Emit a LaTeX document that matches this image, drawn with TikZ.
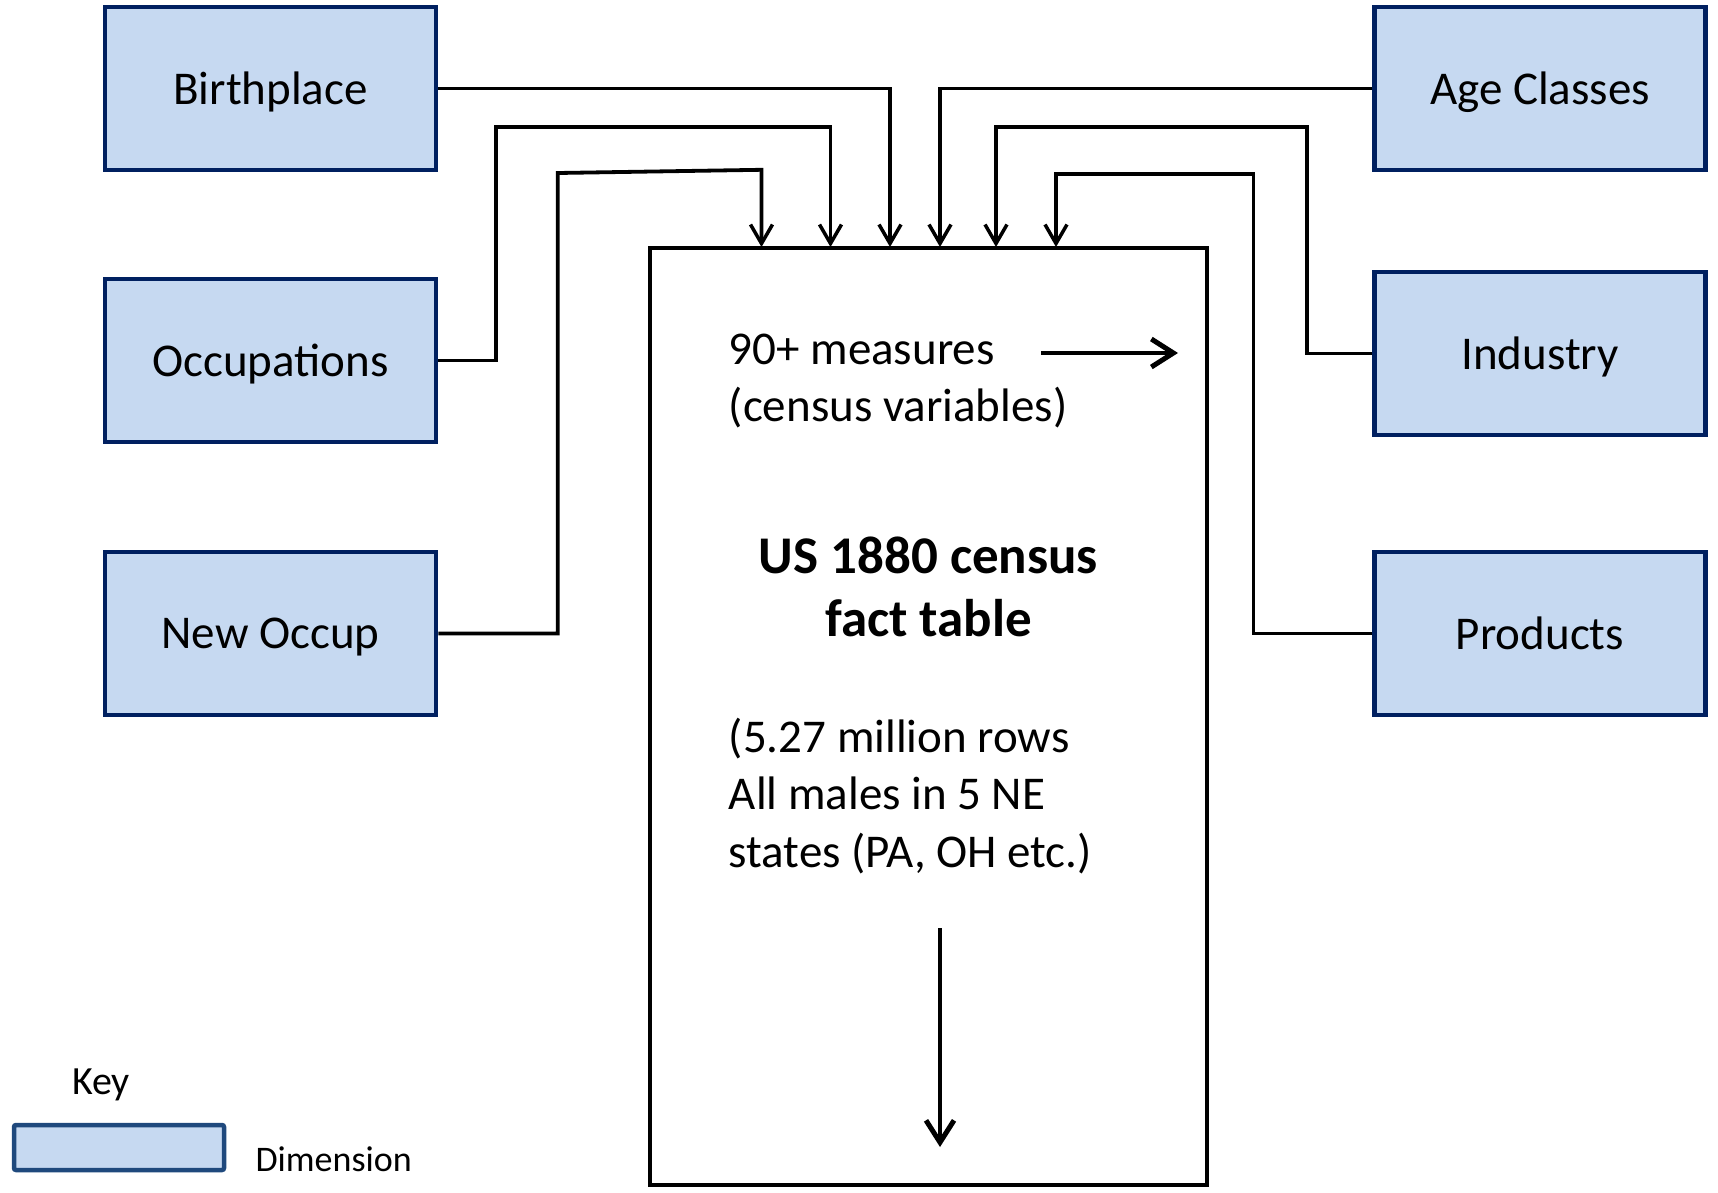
\documentclass[tikz,border=0pt]{standalone}
\usepackage{fontspec}
\setmainfont{Carlito}
\usetikzlibrary{arrows.meta}
\definecolor{dimfill}{HTML}{C6D9F1}
\definecolor{dimdraw}{HTML}{002060}
\definecolor{keydraw}{HTML}{1F497D}
\begin{document}
\begin{tikzpicture}[x=1pt,y=-1pt,
  dimbox/.style={draw=dimdraw,fill=dimfill,line width=4.5pt,rectangle,minimum width=331pt,minimum height=163pt,inner sep=0pt,text depth=0pt,font=\fontsize{47}{56}\selectfont},
  conn/.style={line width=3.8pt,line join=miter},
  tipped/.style={conn,-{Straight Barb[length=19pt,width=22pt,line width=3.5pt]}},
  bigarrow/.style={line width=4.8pt,-{Straight Barb[length=22pt,width=28pt,line width=5pt]}},
  txt/.style={inner sep=0pt,align=left,font=\fontsize{47}{57.5}\selectfont}]
\useasboundingbox (0,0) rectangle (1718,1192);
% dimension boxes
\node[dimbox] (birth) at (270.5,88.5) {Birthplace};
\node[dimbox] (occ) at (270.5,360.5) {Occupations};
\node[dimbox] (newocc) at (270.5,633.5) {New Occup};
\node[dimbox] (age) at (1540,88.5) {Age Classes};
\node[dimbox] (ind) at (1540,353.5) {Industry};
\node[dimbox] (prod) at (1540,633.5) {Products};
% fact table
\node[draw,line width=4.5pt,rectangle,minimum width=557pt,minimum height=937pt,inner sep=0pt] (fact) at (928.5,716.5) {};
% arrow targets on the table top
\coordinate (t1) at (761.5,247);
\coordinate (t2) at (830.5,247);
\coordinate (t3) at (890,247);
\coordinate (t4) at (940,247);
\coordinate (t5) at (996,247);
\coordinate (t6) at (1056,247);
% connectors
\draw[tipped] (birth.east) -| (t3);
\draw[tipped] (age.west) -| (t4);
\draw[tipped] (occ.east) -| (496,127) -| (t2);
\draw[tipped] (ind.west) -| (1307,127) -| (t5);
\draw[tipped] (newocc.east) -| (557.7,173) -- (761.5,169.8) -- (t1);
\draw[tipped] (prod.west) -| (1253.5,174) -| (t6);
% table texts
\node[txt,anchor=west] (meas) at (728.6,381) {90+ measures\\(census variables)};
\node[inner sep=0pt,align=center,font=\fontsize{53}{63}\selectfont\bfseries] (title) at (928.5,587) {US 1880 census\\fact table};
\node[txt,anchor=west] (rows) at (728.6,796) {(5.27 million rows\\All males in 5 NE\\states (PA, OH etc.)};
\coordinate (ma) at (1041,353);
\coordinate (mb) at (1178,353);
\draw[bigarrow] (ma) -- (mb);
\coordinate (da) at (940,928);
\coordinate (db) at (940,1147);
\draw[bigarrow] (da) -- (db);
% key
\node[inner sep=0pt,font=\fontsize{40}{48}\selectfont] (key) at (101,1085) {Key};
\node[draw=keydraw,fill=dimfill,line width=4.5pt,rounded corners=2pt,minimum width=210pt,minimum height=45pt,inner sep=0pt] (keybox) at (119,1147.5) {};
\node[inner sep=0pt,font=\fontsize{36}{44}\selectfont] (dimlbl) at (333.7,1159) {Dimension};
\end{tikzpicture}
\end{document}
